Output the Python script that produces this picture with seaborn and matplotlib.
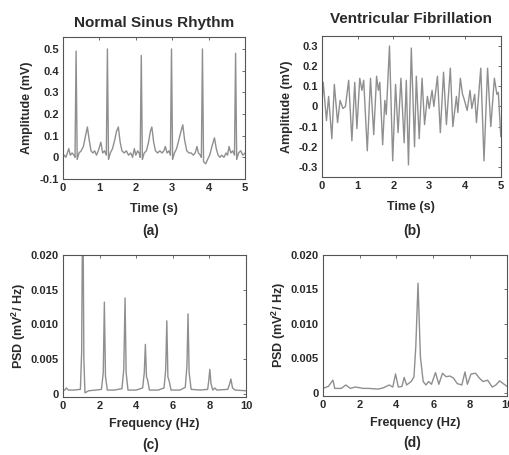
import matplotlib
matplotlib.use("Agg")
from matplotlib import pyplot as plt
import pandas as pd
import numpy as np
import seaborn as sns

# (a) normal sinus rhythm
nsr_time = [0.00, 0.04, 0.08, 0.12, 0.16, 0.20, 0.25, 0.30, 0.33, 0.36, 0.39, 0.44, 0.50, 0.56,
            0.62, 0.67, 0.72, 0.77, 0.82, 0.87, 0.92, 0.97, 1.04, 1.09, 1.14, 1.19, 1.22, 1.25,
            1.30, 1.36, 1.42, 1.47, 1.52, 1.57, 1.62, 1.68, 1.74, 1.80, 1.86, 1.91, 1.96, 2.00,
            2.05, 2.09, 2.12, 2.15, 2.18, 2.23, 2.29, 2.35, 2.40, 2.44, 2.49, 2.54, 2.60, 2.66,
            2.72, 2.77, 2.81, 2.86, 2.91, 2.95, 2.98, 3.01, 3.06, 3.12, 3.18, 3.24, 3.29, 3.34,
            3.40, 3.46, 3.52, 3.58, 3.63, 3.68, 3.72, 3.77, 3.80, 3.83, 3.86, 3.92, 3.97, 4.03,
            4.09, 4.16, 4.21, 4.26, 4.31, 4.36, 4.42, 4.48, 4.52, 4.56, 4.61, 4.66, 4.71, 4.74,
            4.77, 4.82, 4.88, 4.94, 5.00]
nsr_amp = [0.00, 0.01, 0.00, 0.02, 0.04, 0.01, 0.02, 0.01, 0.00, 0.49, -0.01, 0.02, 0.03, 0.05,
           0.10, 0.14, 0.08, 0.03, 0.02, 0.03, 0.01, 0.03, 0.07, 0.02, 0.03, 0.01, 0.50, -0.01,
           0.02, 0.04, 0.08, 0.12, 0.14, 0.07, 0.03, 0.02, 0.03, 0.01, 0.02, 0.00, 0.04, 0.01,
           0.03, 0.02, 0.00, 0.47, -0.01, 0.02, 0.03, 0.07, 0.12, 0.14, 0.07, 0.03, 0.02, 0.03,
           0.02, 0.03, 0.05, 0.02, 0.03, 0.01, 0.50, -0.01, 0.02, 0.04, 0.08, 0.12, 0.15, 0.08,
           0.03, 0.02, 0.02, 0.01, 0.02, 0.05, 0.02, 0.01, 0.00, 0.50, -0.02, -0.03, -0.01, 0.01,
           0.05, 0.09, 0.04, 0.01, 0.00, 0.01, 0.00, 0.02, 0.01, 0.05, 0.02, 0.03, 0.01, 0.48,
           -0.01, 0.02, 0.03, 0.01, 0.02]

# (b) ventricular fibrillation, peaks and troughs
vf_time = [0.00, 0.04, 0.13, 0.19, 0.28, 0.35, 0.44, 0.51, 0.59, 0.66, 0.75, 0.84, 0.92, 0.98,
           1.06, 1.12, 1.17, 1.27, 1.36, 1.45, 1.53, 1.58, 1.62, 1.70, 1.76, 1.80, 1.89, 1.98,
           2.06, 2.13, 2.21, 2.30, 2.36, 2.42, 2.50, 2.59, 2.64, 2.72, 2.80, 2.87, 2.95, 3.00,
           3.08, 3.13, 3.23, 3.31, 3.40, 3.48, 3.59, 3.66, 3.76, 3.80, 3.87, 3.93, 3.97, 4.06,
           4.14, 4.19, 4.27, 4.32, 4.44, 4.53, 4.63, 4.72, 4.82, 4.89, 4.93, 5.00]
vf_amp = [0.01, 0.12, -0.07, 0.05, -0.16, 0.11, -0.08, 0.03, -0.01, 0.00, 0.13, -0.17, 0.12, -0.11,
          0.14, 0.08, 0.13, -0.22, 0.14, -0.14, 0.15, 0.08, 0.12, -0.19, 0.03, -0.04, 0.30, -0.27,
          0.11, -0.13, 0.14, -0.18, 0.13, -0.29, 0.29, -0.20, 0.15, -0.16, 0.14, -0.09, 0.05, -0.01,
          0.08, 0.00, 0.15, -0.13, 0.17, -0.09, 0.19, -0.10, 0.05, -0.03, 0.14, 0.06, 0.04, -0.02,
          0.08, -0.01, 0.06, -0.08, 0.19, -0.27, 0.19, -0.10, 0.14, 0.06, 0.07, -0.15]

# (c) PSD of normal sinus rhythm
nsr_freq = [0.00, 0.10, 0.18, 0.30, 0.60, 0.95, 1.02, 1.08, 1.14, 1.20, 1.40, 1.80, 2.10, 2.20,
            2.26, 2.32, 2.42, 2.80, 3.22, 3.32, 3.39, 3.45, 3.55, 4.00, 4.35, 4.44, 4.50, 4.56,
            4.62, 4.72, 5.20, 5.52, 5.61, 5.67, 5.73, 5.80, 5.90, 6.40, 6.68, 6.77, 6.83, 6.89,
            7.00, 7.50, 7.90, 7.96, 8.02, 8.08, 8.18, 8.30, 8.40, 9.00, 9.08, 9.17, 9.26, 9.40,
            10.00]
nsr_psd = [0.0004, 0.0005, 0.0008, 0.0005, 0.0005, 0.0006, 0.0060, 0.0320, 0.0050, 0.0001, 0.0004,
           0.0005, 0.0006, 0.0030, 0.0132, 0.0025, 0.0005, 0.0005, 0.0007, 0.0035, 0.0138, 0.0030,
           0.0005, 0.0005, 0.0008, 0.0030, 0.0071, 0.0024, 0.0020, 0.0005, 0.0005, 0.0008, 0.0035,
           0.0105, 0.0024, 0.0018, 0.0005, 0.0005, 0.0009, 0.0040, 0.0115, 0.0030, 0.0006, 0.0005,
           0.0006, 0.0018, 0.0035, 0.0015, 0.0005, 0.0008, 0.0005, 0.0006, 0.0012, 0.0021, 0.0008,
           0.0005, 0.0004]

# (d) PSD of ventricular fibrillation
vf_freq = [0.0, 0.3, 0.55, 0.65, 1.0, 1.25, 1.5, 1.75, 2.0, 2.2, 2.5, 3.0, 3.3, 3.6, 3.8, 3.95,
           4.1, 4.3, 4.42, 4.55, 4.8, 4.95, 5.05, 5.17, 5.3, 5.45, 5.6, 5.75, 5.9, 6.12, 6.3, 6.5,
           6.7, 6.9, 7.1, 7.3, 7.55, 7.72, 7.85, 8.05, 8.3, 8.5, 8.7, 8.95, 9.2, 9.4, 9.6, 9.8, 10.0]
vf_psd = [0.0006, 0.0009, 0.0018, 0.0006, 0.0006, 0.0011, 0.0006, 0.0008, 0.0007, 0.0006, 0.0006,
          0.0005, 0.0007, 0.0011, 0.0008, 0.0027, 0.0008, 0.0009, 0.0022, 0.0011, 0.0016, 0.0023,
          0.0067, 0.0159, 0.0052, 0.0016, 0.0011, 0.0016, 0.0012, 0.0029, 0.0012, 0.0028, 0.0023,
          0.0024, 0.0021, 0.0013, 0.0011, 0.0030, 0.0012, 0.0027, 0.0028, 0.0021, 0.0016, 0.0018,
          0.0008, 0.0011, 0.0017, 0.0013, 0.0009]

sns.set_style("white")
plt.rcParams['font.family'] = ['Liberation Sans', 'DejaVu Sans']
plt.rcParams['font.weight'] = 'bold'
plt.rcParams['mathtext.fontset'] = 'custom'
plt.rcParams['mathtext.bf'] = 'Liberation Sans:bold'
plt.rcParams['mathtext.rm'] = 'Liberation Sans:bold'
plt.rcParams['mathtext.default'] = 'bf'

line_col = '#8f8f8f'
text_col = '#2a2a2a'
lab_size = 9
tick_size = 8

fig = plt.figure(figsize=(5.1, 4.55), dpi=100)
ax_a = fig.add_axes([0.1235, 0.6066, 0.357, 0.312])
ax_b = fig.add_axes([0.631, 0.611, 0.351, 0.310])
ax_c = fig.add_axes([0.1235, 0.1275, 0.359, 0.312])
ax_d = fig.add_axes([0.633, 0.1297, 0.361, 0.310])

sns.lineplot(x=nsr_time, y=nsr_amp, ax=ax_a, color=line_col, lw=1.0, estimator=None, sort=False)
sns.lineplot(x=vf_time, y=vf_amp, ax=ax_b, color=line_col, lw=1.0, estimator=None, sort=False)
sns.lineplot(x=nsr_freq, y=nsr_psd, ax=ax_c, color=line_col, lw=1.0, estimator=None, sort=False)
sns.lineplot(x=vf_freq, y=vf_psd, ax=ax_d, color=line_col, lw=1.0, estimator=None, sort=False)

ax_a.set_xlim(0, 5)
ax_a.set_ylim(-0.1, 0.555)
ax_a.set_xticks([0, 1, 2, 3, 4, 5])
ax_a.set_yticks([-0.1, 0, 0.1, 0.2, 0.3, 0.4, 0.5], ['-0.1', '0', '0.1', '0.2', '0.3', '0.4', '0.5'])
ax_a.set_title('Normal Sinus Rhythm', fontsize=11, fontweight='bold', color=text_col, pad=7)
ax_a.set_xlabel('Time (s)', fontsize=lab_size, fontweight='bold', color=text_col, labelpad=7)
ax_a.set_ylabel('Amplitude (mV)', fontsize=lab_size, fontweight='bold', color=text_col, labelpad=5)

ax_b.set_xlim(0, 5)
ax_b.set_ylim(-0.35, 0.35)
ax_b.set_xticks([0, 1, 2, 3, 4, 5])
ax_b.set_yticks([-0.3, -0.2, -0.1, 0, 0.1, 0.2, 0.3], ['-0.3', '-0.2', '-0.1', '0', '0.1', '0.2', '0.3'])
ax_b.set_title('Ventricular Fibrillation', fontsize=11, fontweight='bold', color=text_col, pad=9)
ax_b.set_xlabel('Time (s)', fontsize=lab_size, fontweight='bold', color=text_col, labelpad=7)
ax_b.set_ylabel('Amplitude (mV)', fontsize=lab_size, fontweight='bold', color=text_col, labelpad=4)

psd_ticks = [0, 0.005, 0.010, 0.015, 0.020]
psd_labels = ['0', '0.005', '0.010', '0.015', '0.020']
for ax in (ax_c, ax_d):
    ax.set_xlim(0, 10)
    ax.set_ylim(-0.0005, 0.020)
    ax.set_xticks([0, 2, 4, 6, 8, 10])
    ax.set_yticks(psd_ticks, psd_labels)
    ax.set_xlabel('Frequency (Hz)', fontsize=lab_size, fontweight='bold', color=text_col, labelpad=5)
    ax.set_ylabel(r'PSD (mV$^{2}$/ Hz)', fontsize=lab_size, fontweight='bold', color=text_col, labelpad=2)

for ax in (ax_a, ax_b, ax_c, ax_d):
    ax.tick_params(direction='in', top=True, right=True, length=2.5, width=0.6,
                   labelsize=tick_size, labelcolor=text_col, color='#555555', pad=3)
    for lbl in ax.get_xticklabels() + ax.get_yticklabels():
        lbl.set_fontweight('bold')
    for sp in ax.spines.values():
        sp.set_color('#555555')
        sp.set_linewidth(0.8)

fig.text(0.296, 0.492, '(a)', ha='center', va='center', fontsize=10, color=text_col)
fig.text(0.808, 0.492, '(b)', ha='center', va='center', fontsize=10, color=text_col)
fig.text(0.296, 0.022, '(c)', ha='center', va='center', fontsize=10, color=text_col)
fig.text(0.808, 0.027, '(d)', ha='center', va='center', fontsize=10, color=text_col)

fig.savefig('out.png', dpi=100)
